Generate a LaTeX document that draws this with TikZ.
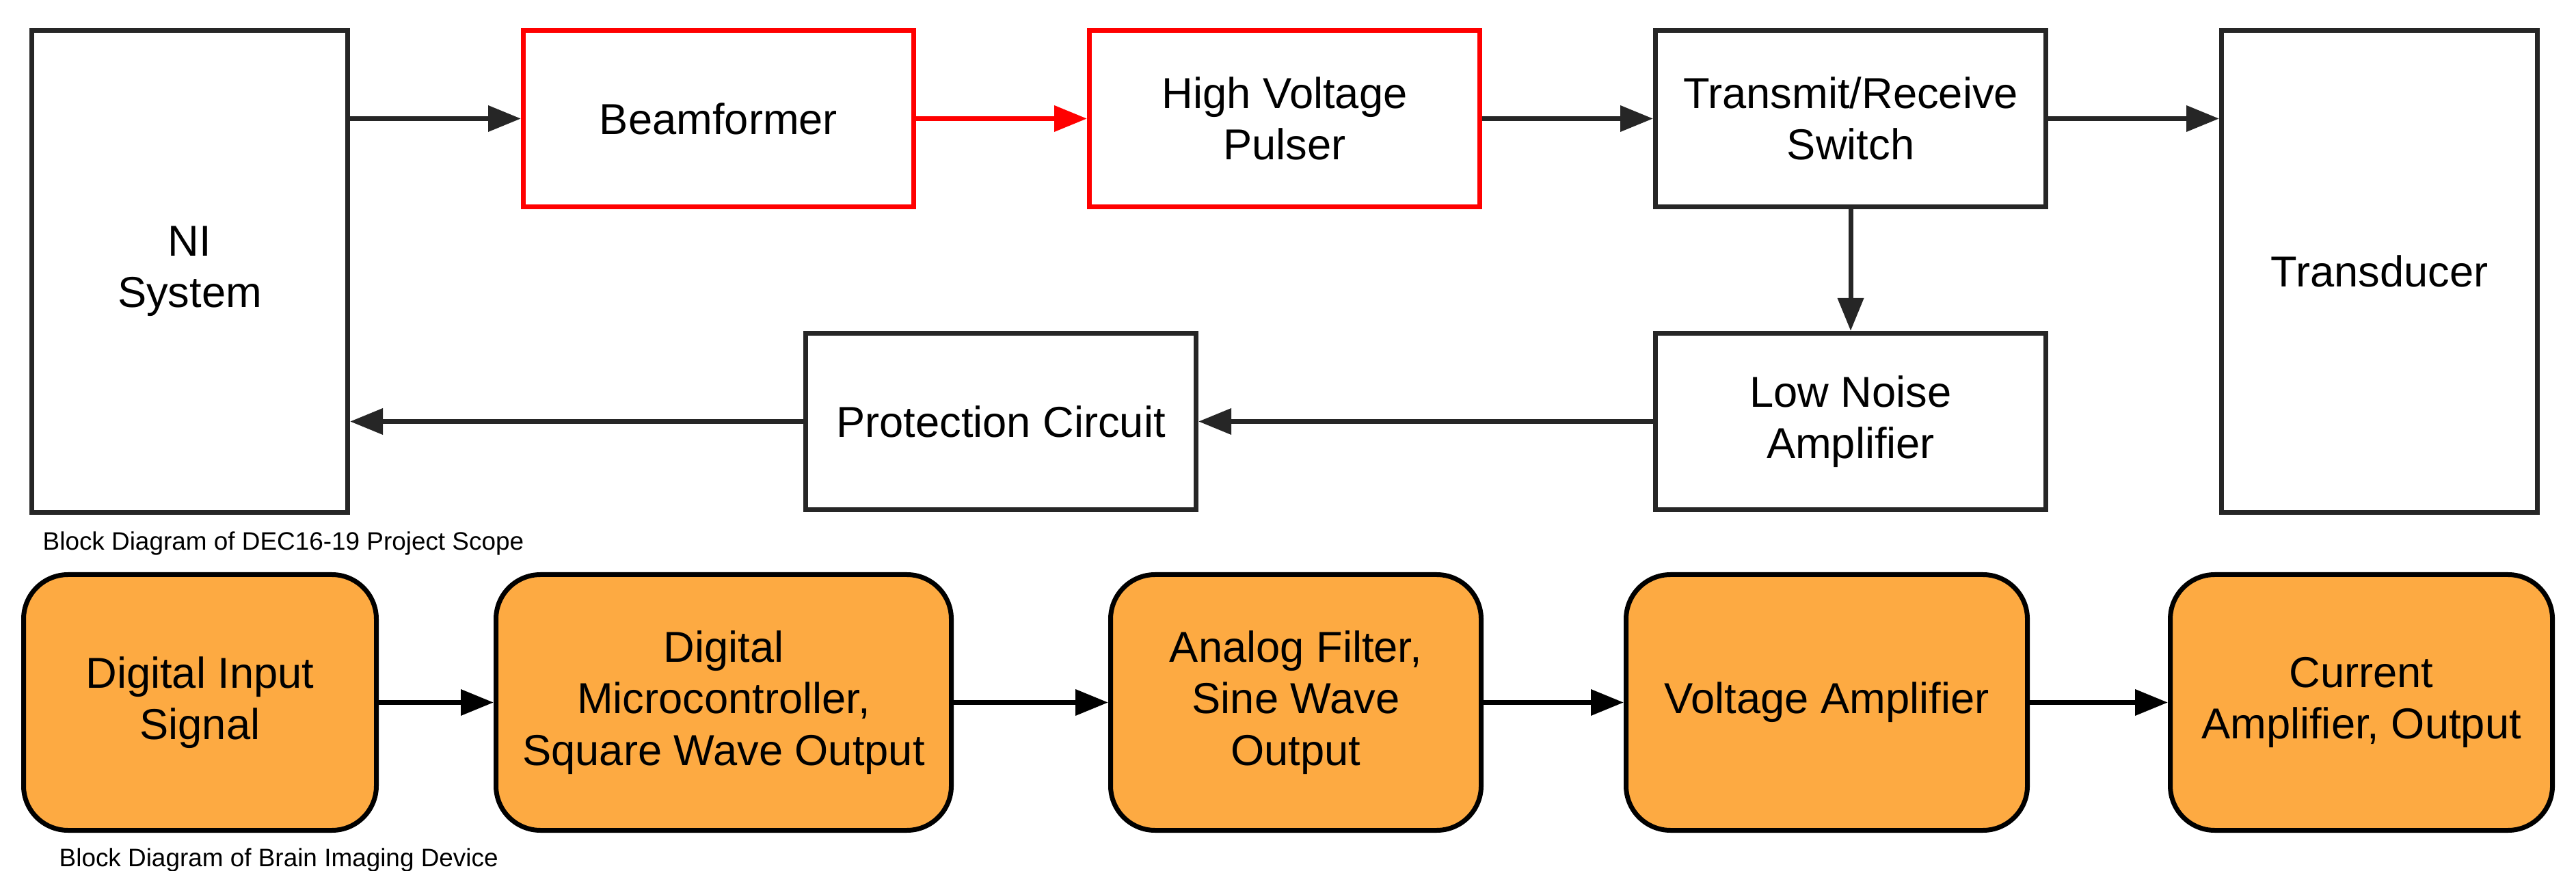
\documentclass[tikz,border=0pt]{standalone}
\usepackage{fontspec}
\setmainfont{Liberation Sans}
\usetikzlibrary{arrows.meta,positioning}
\definecolor{boxgray}{RGB}{38,38,38}
\definecolor{pulsered}{RGB}{255,0,0}
\definecolor{devorange}{RGB}{253,170,66}

\begin{document}
\begin{tikzpicture}[
  node distance=2.5cm,
  box/.style={draw=boxgray,line width=0.07cm,minimum width=5.71cm,minimum height=2.58cm,
    align=center,inner sep=0pt,font=\fontsize{18}{21.5}\selectfont},
  tall/.style={box,minimum width=4.62cm,minimum height=7.05cm},
  redbox/.style={box,draw=pulsered},
  dev/.style={draw=black,fill=devorange,line width=0.07cm,rounded corners=0.65cm,
    minimum height=3.74cm,align=center,inner sep=0pt,font=\fontsize{18}{21.5}\selectfont},
  arr/.style={-{Triangle[length=0.48cm,width=0.37cm]},line width=0.07cm,draw=boxgray},
  redarr/.style={arr,draw=pulsered},
  darr/.style={arr,draw=black},
  captext/.style={anchor=base west,inner sep=0pt,font=\fontsize{10.5}{12}\selectfont}
]
  \useasboundingbox (0,0) rectangle (37.68,12.73);

  \node[tall] (NI) at (2.775,8.76) {NI\\System};
  \node[redbox,right=of NI.north east,anchor=north west] (BF) {Beamformer};
  \node[redbox,right=of BF] (HVP) {High Voltage\\Pulser};
  \node[box,right=of HVP] (TR) {Transmit/Receive\\Switch};
  \node[tall,right=of TR.north east,anchor=north west] (TD) {Transducer};
  \node[box,below=1.78cm of TR] (LNA) {Low Noise\\Amplifier};
  \node[box,left=6.65cm of LNA] (PC) {Protection Circuit};
  \node[captext] (scopecap) at (0.62,4.68) {Block Diagram of DEC16-19 Project Scope};

  \draw[arr] (NI.east |- BF.west) -- (BF.west);
  \draw[redarr] (BF) -- (HVP);
  \draw[arr] (HVP) -- (TR);
  \draw[arr] (TR.east) -- (TR.east -| TD.west);
  \draw[arr] (TR) -- (LNA);
  \draw[arr] (LNA) -- (PC);
  \draw[arr] (PC.west) -- (PC.west -| NI.east);

  \node[dev,minimum width=5.16cm] (DI) at (2.925,2.455) {Digital Input\\Signal};
  \node[dev,minimum width=6.66cm,right=1.68cm of DI] (DM) {Digital\\Microcontroller,\\Square Wave Output};
  \node[dev,minimum width=5.42cm,right=2.26cm of DM] (AF) {Analog Filter,\\Sine Wave\\Output};
  \node[dev,minimum width=5.87cm,right=2.05cm of AF] (VA) {Voltage Amplifier};
  \node[dev,minimum width=5.59cm,right=2.02cm of VA] (CA) {Current\\Amplifier, Output};
  \node[captext] (braincap) at (0.86,0.06) {Block Diagram of Brain Imaging Device};

  \draw[darr] (DI) -- (DM);
  \draw[darr] (DM) -- (AF);
  \draw[darr] (AF) -- (VA);
  \draw[darr] (VA) -- (CA);
\end{tikzpicture}
\end{document}
